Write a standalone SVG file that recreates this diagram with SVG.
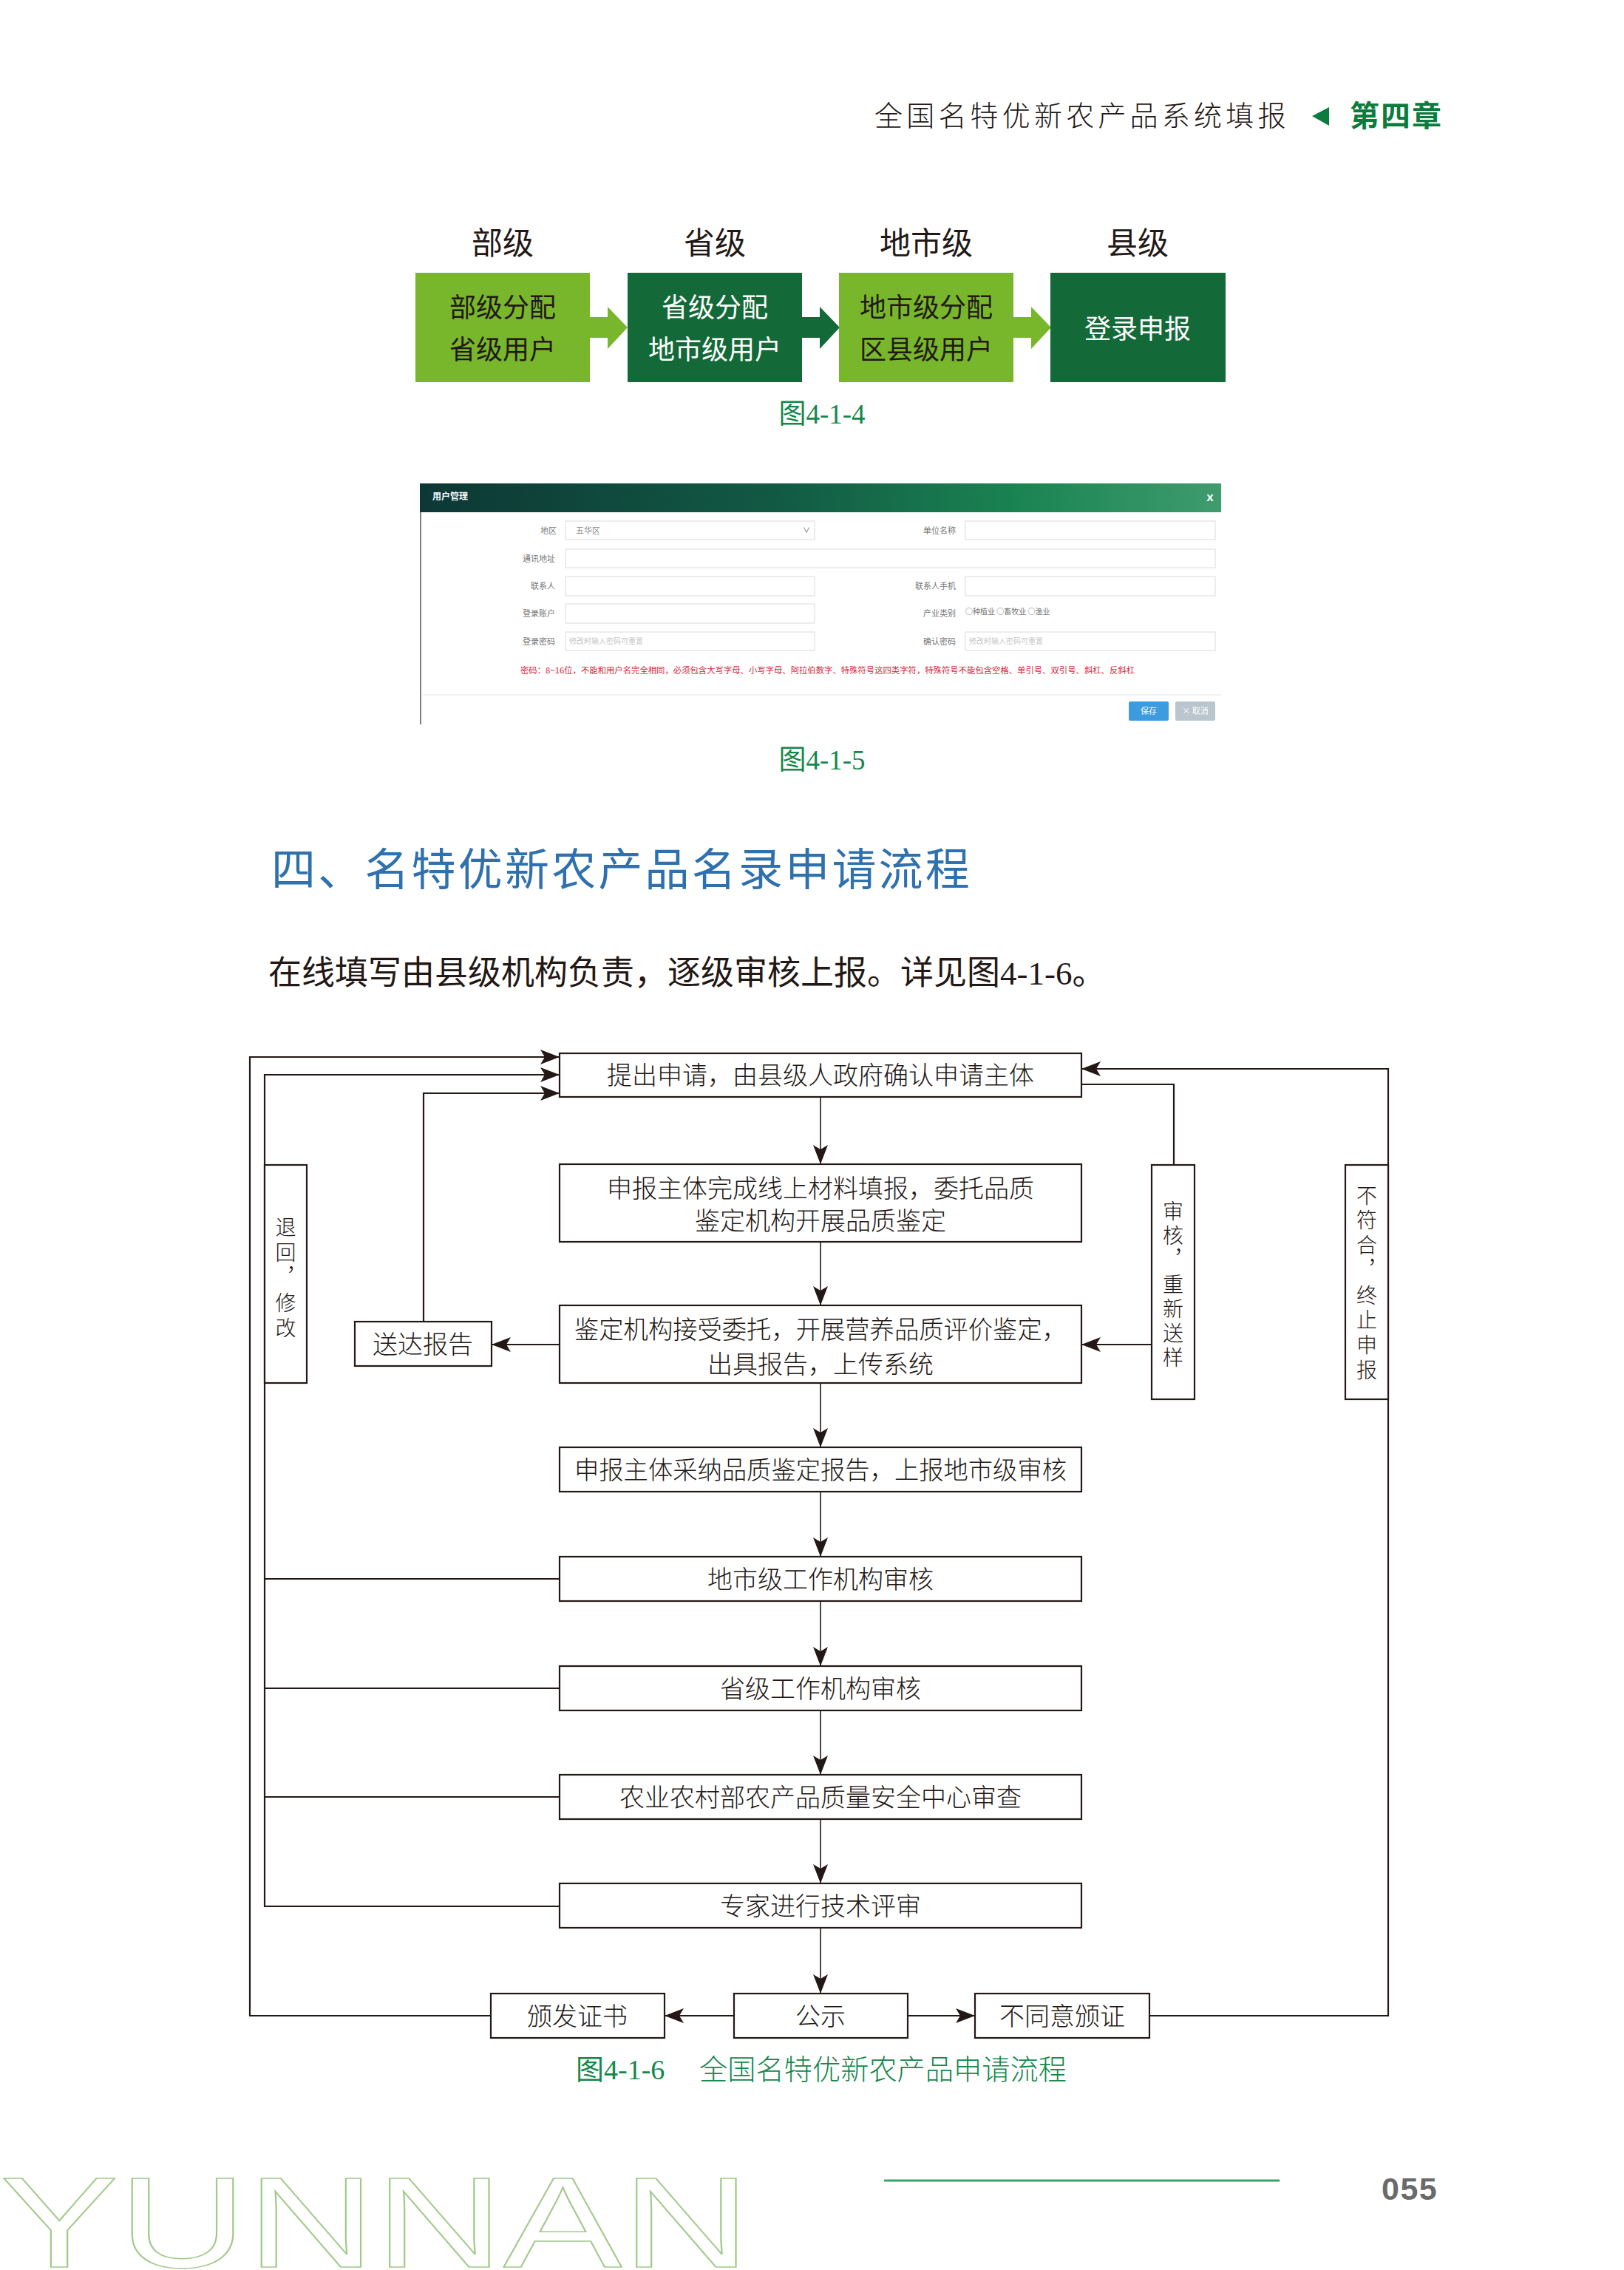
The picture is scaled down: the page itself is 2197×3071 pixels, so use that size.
<svg xmlns="http://www.w3.org/2000/svg" width="2197" height="3071" viewBox="0 0 2197 3071">
<style>
.cjk{font-family:"Noto Sans CJK SC","Noto Sans",sans-serif}
.ser{font-family:"Liberation Serif","Noto Sans CJK SC",serif}
.hdr{font-family:"Noto Sans CJK SC",sans-serif;font-size:38px;fill:#231815;letter-spacing:5.2px;font-weight:300}
.lvl{font-family:"Noto Sans CJK SC",sans-serif;font-size:42px;fill:#231815;text-anchor:middle}
.bt{font-family:"Noto Sans CJK SC",sans-serif;font-size:36px;text-anchor:middle}
.cap{font-family:"Liberation Serif","Noto Sans CJK SC",serif;fill:#13884a}
.fl{font-family:"Noto Sans CJK SC",sans-serif;font-size:11px;fill:#777;text-anchor:end}
.inp{fill:#fff;stroke:#e2e2e2;stroke-width:1.2}
.box{fill:#fff;stroke:#231815;stroke-width:2.2}
.ft{font-family:"Noto Sans CJK SC",sans-serif;font-size:34px;fill:#231815;text-anchor:middle;font-weight:300}
.vt{font-family:"Noto Sans CJK SC",sans-serif;font-size:28px;fill:#231815;font-weight:300;writing-mode:vertical-rl}
.ln{fill:none;stroke:#231815;stroke-width:2.2}
.lnc{fill:none;stroke:#231815;stroke-width:1.6}
</style>
<defs>
<marker id="ah" markerUnits="userSpaceOnUse" viewBox="0 0 26 20" markerWidth="26" markerHeight="20" refX="26" refY="10" orient="auto">
<path d="M0,0 L26,10 L0,20 L6,10 Z" fill="#231815"/>
</marker>
<linearGradient id="bar" x1="0" y1="0" x2="1" y2="0">
<stop offset="0" stop-color="#0d3735"/>
<stop offset="0.45" stop-color="#125a44"/>
<stop offset="0.75" stop-color="#1a8452"/>
<stop offset="1" stop-color="#3f9c6f"/>
</linearGradient>
</defs>
<rect x="0" y="0" width="2197" height="3071" fill="#fff"/>

<!-- page header -->
<g id="page-header">
<text class="hdr" x="1183" y="170">全国名特优新农产品系统填报</text>
<polygon points="1775,157 1798,145 1798,170" fill="#0c7c3d"/>
<text class="cjk" x="1826" y="171" font-size="40" font-weight="bold" fill="#0c7c3d" letter-spacing="2">第四章</text>
</g>

<!-- figure 4-1-4 -->
<g id="fig414">
<g id="lvl-labels">
<text class="lvl" x="680" y="344">部级</text>
<text class="lvl" x="967" y="344">省级</text>
<text class="lvl" x="1253" y="344">地市级</text>
<text class="lvl" x="1539" y="344">县级</text>
</g>
<g id="n-bu">
<rect x="562" y="369" width="236" height="148" fill="#78b72b"/>
<text class="bt" x="680" y="429" fill="#231815">部级分配</text>
<text class="bt" x="680" y="486" fill="#231815">省级用户</text>
</g>
<g id="a1"><rect x="797" y="429" width="26" height="28" fill="#78b72b"/><polygon points="822,415 849,443 822,472" fill="#78b72b"/></g>
<g id="n-sheng">
<rect x="849" y="369" width="236" height="148" fill="#136a38"/>
<text class="bt" x="967" y="429" fill="#fff">省级分配</text>
<text class="bt" x="967" y="486" fill="#fff">地市级用户</text>
</g>
<g id="a2"><rect x="1084" y="429" width="26" height="28" fill="#136a38"/><polygon points="1109,415 1136,443 1109,472" fill="#136a38"/></g>
<g id="n-dishi">
<rect x="1135" y="369" width="236" height="148" fill="#78b72b"/>
<text class="bt" x="1253" y="429" fill="#231815">地市级分配</text>
<text class="bt" x="1253" y="486" fill="#231815">区县级用户</text>
</g>
<g id="a3"><rect x="1370" y="429" width="26" height="28" fill="#78b72b"/><polygon points="1395,415 1422,443 1395,472" fill="#78b72b"/></g>
<g id="n-xian">
<rect x="1421" y="369" width="237" height="148" fill="#136a38"/>
<text class="bt" x="1539" y="458" fill="#fff">登录申报</text>
</g>
<text class="cap" x="1112" y="573" font-size="37" text-anchor="middle">图4-1-4</text>
</g>

<!-- figure 4-1-5 screenshot -->
<g id="fig415">
<rect x="568" y="654" width="1084" height="326" fill="#fff"/>
<rect x="568" y="654" width="1084" height="39" fill="url(#bar)"/>
<text class="cjk" x="585" y="676" font-size="12" font-weight="bold" fill="#fff">用户管理</text>
<text x="1637" y="678" font-family="Liberation Sans,sans-serif" font-size="17" font-weight="bold" fill="#fff" text-anchor="middle">x</text>
<line x1="569" y1="693" x2="569" y2="980" stroke="#555" stroke-width="1.5"/>
<text class="fl" x="753" y="722">地区</text>
<rect class="inp" x="765" y="705" width="337" height="25"/>
<text class="cjk" x="779" y="722" font-size="11" fill="#888">五华区</text>
<text class="cjk" x="1091" y="721" font-size="10" fill="#666" text-anchor="middle">∨</text>
<text class="fl" x="1293" y="722">单位名称</text>
<rect class="inp" x="1306" y="705" width="338" height="25"/>
<text class="fl" x="751" y="760">通讯地址</text>
<rect class="inp" x="765" y="743" width="879" height="25"/>
<text class="fl" x="751" y="797">联系人</text>
<rect class="inp" x="765" y="780" width="337" height="26"/>
<text class="fl" x="1293" y="797">联系人手机</text>
<rect class="inp" x="1306" y="780" width="338" height="26"/>
<text class="fl" x="751" y="834">登录账户</text>
<rect class="inp" x="765" y="817" width="337" height="26"/>
<text class="fl" x="1293" y="834">产业类别</text>
<text class="cjk" x="1306" y="831" font-size="10" fill="#777">○种植业 ○畜牧业 ○渔业</text>
<text class="fl" x="751" y="872">登录密码</text>
<rect class="inp" x="765" y="855" width="337" height="25"/>
<text class="cjk" x="770" y="871" font-size="10" fill="#c8c8c8">修改时输入密码可重置</text>
<text class="fl" x="1293" y="872">确认密码</text>
<rect class="inp" x="1306" y="855" width="338" height="25"/>
<text class="cjk" x="1311" y="871" font-size="10" fill="#c8c8c8">修改时输入密码可重置</text>
<text class="cjk" x="704" y="911" font-size="11" fill="#d8263c" textLength="831" lengthAdjust="spacingAndGlyphs">密码：8~16位，不能和用户名完全相同，必须包含大写字母、小写字母、阿拉伯数字、特殊符号这四类字符，特殊符号不能包含空格、单引号、双引号、斜杠、反斜杠</text>
<line x1="572" y1="940" x2="1652" y2="940" stroke="#eeeeee" stroke-width="1.5"/>
<rect x="1527" y="949" width="54" height="26" rx="2" fill="#3d9be0"/>
<text class="cjk" x="1554" y="966" font-size="11" fill="#fff" text-anchor="middle">保存</text>
<rect x="1590" y="949" width="54" height="26" rx="2" fill="#b9c6cf"/>
<text class="cjk" x="1617" y="966" font-size="11" fill="#fff" text-anchor="middle">× 取消</text>
<text class="cap" x="1112" y="1041" font-size="37" text-anchor="middle">图4-1-5</text>
</g>

<!-- section heading and body -->
<text id="heading" class="cjk" x="367" y="1198" font-size="60" fill="#2f71ae" letter-spacing="3.2">四、名特优新农产品名录申请流程</text>
<text id="body" class="ser" x="363" y="1332" font-size="45" fill="#231815">在线填写由县级机构负责，逐级审核上报。详见图4-1-6。</text>

<!-- flowchart connectors -->
<g id="connectors">
<path class="lnc" d="M1110,1484 V1575" marker-end="url(#ah)"/>
<path class="lnc" d="M1110,1680 V1766" marker-end="url(#ah)"/>
<path class="lnc" d="M1110,1871 V1958" marker-end="url(#ah)"/>
<path class="lnc" d="M1110,2018 V2106" marker-end="url(#ah)"/>
<path class="lnc" d="M1110,2166 V2254" marker-end="url(#ah)"/>
<path class="lnc" d="M1110,2314 V2401" marker-end="url(#ah)"/>
<path class="lnc" d="M1110,2461 V2548" marker-end="url(#ah)"/>
<path class="lnc" d="M1110,2608 V2697" marker-end="url(#ah)"/>
<path class="ln" d="M993,2727 H899" marker-end="url(#ah)"/>
<path class="ln" d="M1228,2727 H1319" marker-end="url(#ah)"/>
<path class="ln" d="M664,2727 H338 V1430 H757" marker-end="url(#ah)"/>
<path class="ln" d="M1555,2727 H1878 V1446 H1463" marker-end="url(#ah)"/>
<path class="ln" d="M757,2136 H358"/>
<path class="ln" d="M757,2284 H358"/>
<path class="ln" d="M757,2431 H358"/>
<path class="ln" d="M757,2579 H358 V1454 H757" marker-end="url(#ah)"/>
<path class="ln" d="M757,1819 H665" marker-end="url(#ah)"/>
<path class="ln" d="M573,1788 V1479 H757" marker-end="url(#ah)"/>
<path class="ln" d="M1463,1467 H1588 V1576"/>
<path class="ln" d="M1558,1819 H1463" marker-end="url(#ah)"/>
</g>

<!-- flowchart nodes -->
<g id="f1"><rect class="box" x="757" y="1425" width="706" height="59"/><text class="ft" x="1110" y="1467">提出申请，由县级人政府确认申请主体</text></g>
<g id="f2"><rect class="box" x="757" y="1575" width="706" height="105"/><text class="ft" x="1110" y="1620">申报主体完成线上材料填报，委托品质</text><text class="ft" x="1110" y="1664">鉴定机构开展品质鉴定</text></g>
<g id="f3"><rect class="box" x="757" y="1766" width="706" height="105"/><text class="ft" x="1110" y="1811" textLength="666" lengthAdjust="spacingAndGlyphs">鉴定机构接受委托，开展营养品质评价鉴定，</text><text class="ft" x="1110" y="1858">出具报告，上传系统</text></g>
<g id="f4"><rect class="box" x="757" y="1958" width="706" height="60"/><text class="ft" x="1110" y="2001" textLength="666" lengthAdjust="spacingAndGlyphs">申报主体采纳品质鉴定报告，上报地市级审核</text></g>
<g id="f5"><rect class="box" x="757" y="2106" width="706" height="60"/><text class="ft" x="1110" y="2149">地市级工作机构审核</text></g>
<g id="f6"><rect class="box" x="757" y="2254" width="706" height="60"/><text class="ft" x="1110" y="2297">省级工作机构审核</text></g>
<g id="f7"><rect class="box" x="757" y="2401" width="706" height="60"/><text class="ft" x="1110" y="2444">农业农村部农产品质量安全中心审查</text></g>
<g id="f8"><rect class="box" x="757" y="2548" width="706" height="60"/><text class="ft" x="1110" y="2591">专家进行技术评审</text></g>
<g id="f-banfa"><rect class="box" x="664" y="2697" width="235" height="60"/><text class="ft" x="781" y="2740">颁发证书</text></g>
<g id="f-gongshi"><rect class="box" x="993" y="2697" width="235" height="60"/><text class="ft" x="1110" y="2740">公示</text></g>
<g id="f-butongyi"><rect class="box" x="1319" y="2697" width="236" height="60"/><text class="ft" x="1437" y="2740">不同意颁证</text></g>
<g id="f-songda"><rect class="box" x="480" y="1788" width="185" height="60"/><text class="ft" x="572" y="1831">送达报告</text></g>
<g id="f-tuihui"><rect class="box" x="358" y="1576" width="57" height="295"/>
<text class="vt" x="386.5" y="1646" letter-spacing="6">退回，修改</text></g>
<g id="f-shenhe"><rect class="box" x="1558" y="1576" width="58" height="317"/>
<text class="vt" x="1587" y="1624" letter-spacing="5">审核，重新送样</text></g>
<g id="f-bufuhe"><rect class="box" x="1820" y="1576" width="58" height="317"/>
<text class="vt" x="1849" y="1603" letter-spacing="5.75">不符合，终止申报</text></g>

<g id="cap416">
<text class="cap" x="779" y="2813" font-size="38">图4-1-6</text>
<text class="cjk" x="946" y="2813" font-size="38" fill="#13884a" font-weight="300" textLength="497" lengthAdjust="spacingAndGlyphs">全国名特优新农产品申请流程</text>
</g>

<!-- footer -->
<g id="footer">
<text x="0" y="3067" font-family="Liberation Sans,sans-serif" font-size="174" fill="none" stroke="#a2c98a" stroke-width="1.6" textLength="1015" lengthAdjust="spacingAndGlyphs">YUNNAN</text>
<line x1="1196" y1="2950" x2="1731" y2="2950" stroke="#3aa26b" stroke-width="3"/>
<text x="1869" y="2976" font-family="Liberation Sans,sans-serif" font-size="43" font-weight="bold" fill="#6a6a6a" letter-spacing="1.5">055</text>
</g>
</svg>
